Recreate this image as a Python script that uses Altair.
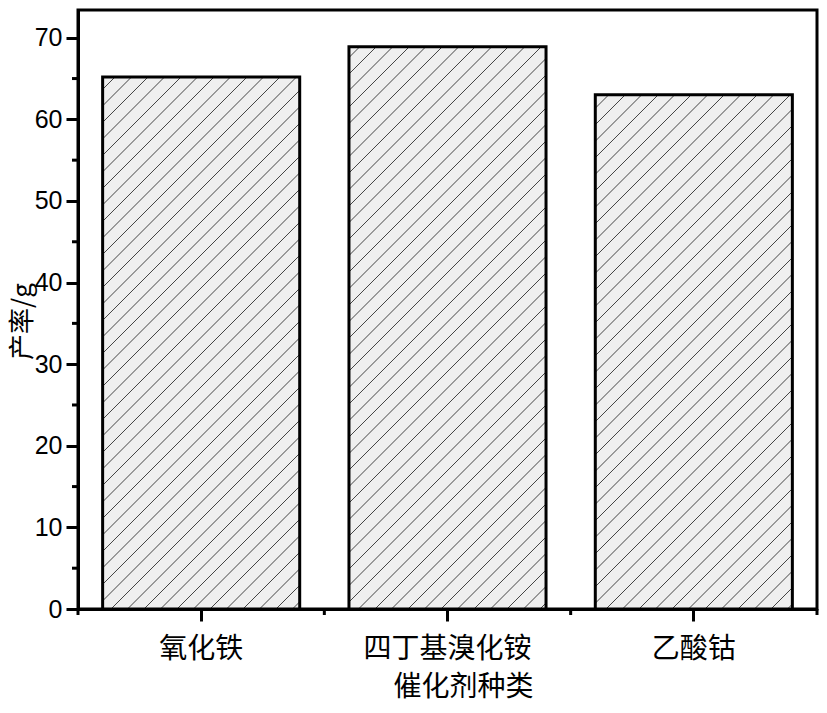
import math
import altair as alt
import pandas as pd

categories = ["氧化铁", "四丁基溴化铵", "乙酸钴"]
yields = [65.2, 68.9, 63.0]
y_ticks = [0, 10, 20, 30, 40, 50, 60, 70]
y_minor = [5, 15, 25, 35, 45, 55, 65]
x_minor = [0, 1, 2, 3]

W, H = 739, 599
YMAX = 73.4
STEP = 16.5
px_x = W / 3
px_y = H / YMAX

df = pd.DataFrame({"cat": categories, "val": yields})

# hatch segments ("/" at 45 degrees in screen space), clipped to each bar
rows = []
for i, v in enumerate(yields):
    x0 = (i + 0.1) * px_x
    x1 = (i + 0.9) * px_x
    h = v * px_y
    k0 = math.floor((x0 - h) / STEP)
    k1 = math.ceil(x1 / STEP)
    for k in range(k0, k1 + 1):
        c = k * STEP
        lo = max(0.0, x0 - c)
        hi = min(h, x1 - c)
        if hi - lo > 0.5:
            rows.append({"hx": (lo + c) / px_x, "hx2": (hi + c) / px_x,
                         "hy": lo / px_y, "hy2": hi / px_y})
hdf = pd.DataFrame(rows)

yscale = alt.Scale(domain=[0, YMAX], nice=False, zero=True)
xband = alt.Scale(paddingInner=0.2, paddingOuter=0.1)
xq = alt.Scale(domain=[0, 3], nice=False, zero=False)

xaxis = alt.Axis(
    title="催化剂种类", labelAngle=0, labelFont="Noto Sans CJK SC", labelFontSize=28,
    labelColor="black", labelPadding=14, tickSize=12, tickWidth=3, tickColor="black",
    domainColor="black", domainWidth=3, titleFont="Noto Sans CJK SC", titleFontSize=28,
    titleFontWeight="normal", titleColor="black", titleX=385, titleY=78,
    titleBaseline="middle", titleAlign="center",
)
yaxis = alt.Axis(
    title="产率/g", values=y_ticks, grid=False, labelFont="Liberation Sans",
    labelFontSize=25, labelColor="black", labelPadding=4, tickSize=12, tickWidth=3,
    tickColor="black", domainColor="black", domainWidth=3,
    titleFont="Noto Sans CJK SC", titleFontSize=26, titleFontWeight="normal",
    titleColor="black", titleAngle=270, titleX=-56, titleY=311,
    titleBaseline="middle", titleAlign="center",
)

bars = alt.Chart(df).mark_bar(color="#efefef").encode(
    x=alt.X("cat:N", sort=categories, scale=xband, axis=xaxis),
    y=alt.Y("val:Q", scale=yscale, axis=yaxis),
)

hatch = alt.Chart(hdf).mark_rule(color="#444444", strokeWidth=1).encode(
    x=alt.X("hx:Q", scale=xq, axis=None),
    x2="hx2:Q",
    y=alt.Y("hy:Q", scale=yscale),
    y2="hy2:Q",
)

outline = alt.Chart(df).mark_bar(fillOpacity=0, stroke="black", strokeWidth=3).encode(
    x=alt.X("cat:N", sort=categories, scale=xband, axis=None),
    y=alt.Y("val:Q", scale=yscale),
)

yminor = alt.Chart(pd.DataFrame({"m": y_minor})).mark_rule(color="black", strokeWidth=3).encode(
    y=alt.Y("m:Q", scale=yscale),
    x=alt.value(-6),
    x2=alt.value(0),
)

xminor = alt.Chart(pd.DataFrame({"mx": x_minor})).mark_rule(color="black", strokeWidth=3).encode(
    x=alt.X("mx:Q", scale=xq, axis=None),
    y=alt.value(H),
    y2=alt.value(H + 6),
)

chart = (
    alt.layer(bars, hatch, outline, yminor, xminor)
    .resolve_scale(x="independent")
    .properties(
        width=W, height=H,
        autosize=alt.AutoSizeParams(type="none"),
        padding={"left": 70, "top": 2, "right": 2, "bottom": 95},
        background="white",
    )
    .configure_view(stroke="black", strokeWidth=3)
)

chart.save("out.html", embed_options={"renderer": "svg", "actions": False})
